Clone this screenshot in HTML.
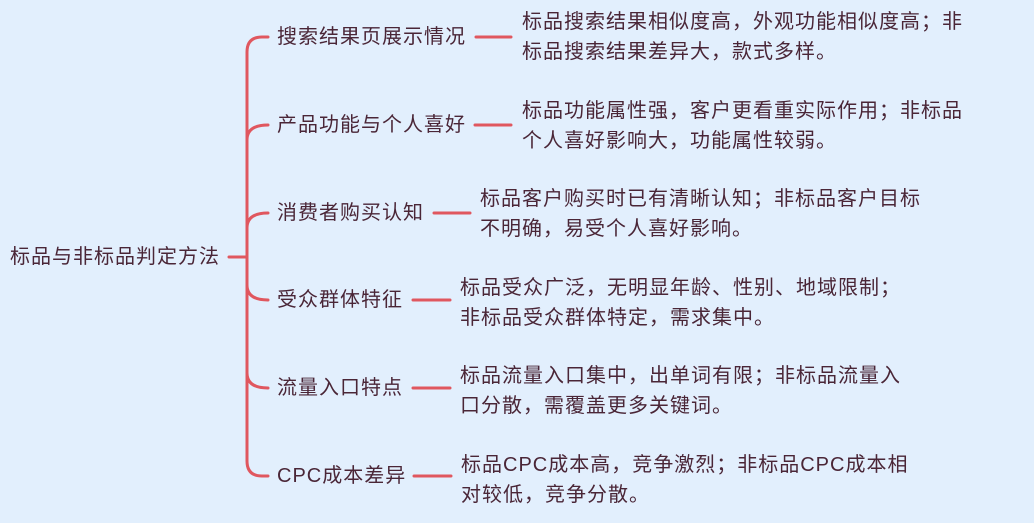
<!DOCTYPE html>
<html><head><meta charset="utf-8"><style>
body{margin:0;width:1034px;height:523px;background:#e2effd;overflow:hidden;position:relative;font-family:"Liberation Sans","Noto Sans CJK SC",sans-serif;color:#4a2637;}
.t{position:absolute;font-size:20px;letter-spacing:1px;white-space:nowrap;line-height:30px;}
svg{position:absolute;left:0;top:0;}
</style></head><body>
<svg width="1034" height="523">
<g stroke="#e0575f" stroke-width="3" fill="none" stroke-linecap="round">
<line x1="229" y1="257" x2="247" y2="257"/>
<path d="M268 37 H262 Q247 37 247 52 V461 Q247 476 262 476 H268"/>
<path d="M268 125 Q247 125 247 140"/>
<path d="M268 213 Q247 213 247 228"/>
<path d="M268 300 Q247 300 247 285"/>
<path d="M268 388 Q247 388 247 373"/>
<line x1="476" y1="37" x2="511" y2="37"/>
<line x1="475" y1="125" x2="511" y2="125"/>
<line x1="434" y1="213" x2="470" y2="213"/>
<line x1="413" y1="300" x2="450" y2="300"/>
<line x1="413" y1="388" x2="450" y2="388"/>
<line x1="414" y1="476" x2="451" y2="476"/>
</g></svg>
<div class="t" style="left:10px;top:242px">标品与非标品判定方法</div>
<div class="t" style="left:277px;top:22px">搜索结果页展示情况</div>
<div class="t" style="left:277px;top:110px">产品功能与个人喜好</div>
<div class="t" style="left:277px;top:198px">消费者购买认知</div>
<div class="t" style="left:277px;top:285px">受众群体特征</div>
<div class="t" style="left:277px;top:373px">流量入口特点</div>
<div class="t" style="left:277px;top:461px">CPC成本差异</div>
<div class="t" style="left:522px;top:7px">标品搜索结果相似度高，外观功能相似度高；非<br>标品搜索结果差异大，款式多样。</div>
<div class="t" style="left:522px;top:96px">标品功能属性强，客户更看重实际作用；非标品<br>个人喜好影响大，功能属性较弱。</div>
<div class="t" style="left:480px;top:184px">标品客户购买时已有清晰认知；非标品客户目标<br>不明确，易受个人喜好影响。</div>
<div class="t" style="left:460px;top:273px">标品受众广泛，无明显年龄、性别、地域限制；<br>非标品受众群体特定，需求集中。</div>
<div class="t" style="left:460px;top:361px">标品流量入口集中，出单词有限；非标品流量入<br>口分散，需覆盖更多关键词。</div>
<div class="t" style="left:461px;top:450px">标品CPC成本高，竞争激烈；非标品CPC成本相<br>对较低，竞争分散。</div>
</body></html>
